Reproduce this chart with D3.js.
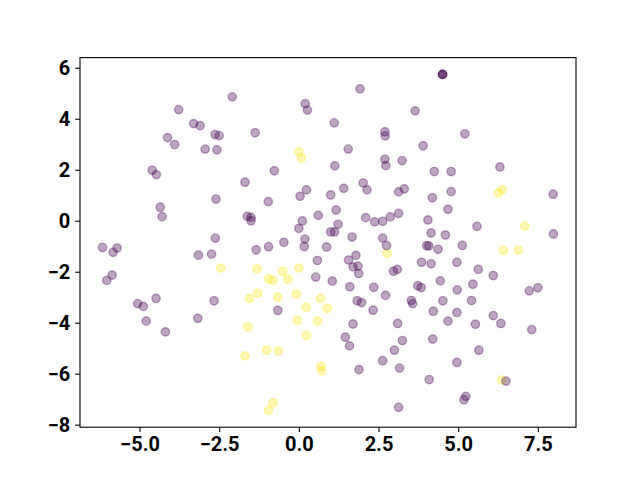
<!DOCTYPE html>
<html>
<head>
<meta charset="utf-8">
<script src="https://cdn.jsdelivr.net/npm/d3@7"></script>
<style>
  body { margin: 0; background: #fff; }
  .tick text { font-family: Roboto, "Liberation Sans", sans-serif; font-weight: bold; font-size: 20px; fill: #000; }
</style>
</head>
<body>
<svg width="640" height="480"></svg>
<script>
// class 0 points (purple)
const purpleX = [-2.09, -3.77, -3.30, -3.10, -2.63, -2.50, -4.12, -3.90, -2.94, -2.57, -4.60, -4.47, -1.69,
  1.92, 0.20, 0.27, 3.65, 1.11, -1.37, 2.70, 2.71, 1.55, 2.70, 2.73, 3.24, 1.13, -0.77,
  4.51, 4.51, 4.51, 5.21, 3.90, 4.25, 4.78, 6.31,
  -2.60, -4.35, -4.29, -1.62, -6.16, -5.70, -5.83, -2.62, -2.74, -3.15, -5.86, -6.03,
  -4.48, -5.06, -4.88, -2.66, -4.79, -4.19, -3.17,
  0.04, 0.24, 1.00, 1.41, 2.02, 2.14, 3.13, 3.31, -0.96, -1.50, -1.50, 0.61, 1.17, 0.11, 0.00,
  1.23, 1.00, 1.12, 2.10, 2.38, 2.63, 2.87, 3.13, 1.67, 0.19, 0.17, -0.47, 0.87, -0.95, -1.34,
  2.63, 2.75, 0.58, 1.56, 1.79, 1.70, 1.86, 1.88, 2.97, 3.09, 0.53, 1.05, 1.60, 2.35, 2.72,
  1.83, 1.97, 3.53, 3.57, -0.66, 2.33, 1.70, 3.10, 1.46, 1.59, 3.25, 3.00, 2.63, 3.16, 1.89, 3.13,
  4.19, 4.78, 4.68, 7.98, 4.05, 4.15, 4.60, 5.59, 7.99, 4.01, 4.08, 4.37, 5.13, 3.85, 4.15, 4.96,
  5.63, 6.10, 4.44, 3.73, 3.84, 4.97, 5.46, 7.23, 7.50, 4.52, 5.42, 4.22, 4.96, 4.68, 5.54, 6.10,
  6.34, 7.31, 4.20, 5.65, 4.96, 4.09, 6.50, 5.24, 5.18];
const purpleY = [4.86, 4.36, 3.81, 3.73, 3.38, 3.34, 3.26, 2.99, 2.81, 2.78, 1.98, 1.81, 1.51,
  5.17, 4.59, 4.34, 4.31, 3.84, 3.45, 3.49, 3.33, 2.81, 2.41, 2.16, 2.36, 2.15, 1.96,
  5.74, 5.74, 5.74, 3.41, 2.94, 1.93, 1.93, 2.11,
  0.85, 0.53, 0.16, 0.17, -1.05, -1.07, -1.24, -0.68, -1.31, -1.35, -2.13, -2.34,
  -3.05, -3.25, -3.36, -3.14, -3.94, -4.36, -3.83,
  0.96, 1.21, 1.01, 1.27, 1.48, 1.21, 1.13, 1.25, 0.75, 0.13, 0.00, 0.21, 0.42, -0.01, -0.30,
  -0.14, -0.44, -0.44, 0.12, -0.04, -0.02, 0.15, 0.29, -0.64, -0.72, -1.01, -0.85, -1.03, -1.02, -1.14,
  -0.68, -0.97, -1.56, -1.54, -1.36, -1.81, -1.78, -2.07, -1.98, -1.91, -2.21, -2.37, -2.59, -2.61, -2.93,
  -3.14, -3.21, -3.13, -3.25, -3.52, -3.51, -4.05, -4.03, -4.57, -4.91, -4.70, -5.08, -5.49, -5.78, -5.84, -7.32,
  0.90, 1.14, 0.45, 1.04, 0.03, -0.48, -0.56, -0.22, -0.52, -0.98, -0.99, -1.12, -0.97, -1.63, -1.69, -1.63,
  -1.91, -2.15, -2.36, -2.55, -2.62, -2.71, -2.49, -2.75, -2.63, -3.14, -3.13, -3.55, -3.60, -3.94, -4.06, -3.72,
  -4.03, -4.27, -4.64, -5.08, -5.56, -6.23, -6.29, -6.89, -7.02];

// class 1 points (yellow)
const yellowX = [0.00, 0.08, -2.45, -1.55, 2.77, -1.31, -0.51, 0.00, -0.95, -0.82, -0.35, -1.29, -0.66,
  -0.08, 0.68, 0.23, 0.89, -1.60, -1.69, -0.05, 0.59, 0.24, -1.01, -0.64, 0.69, 0.72, -0.81, -0.95,
  6.26, 6.39, 7.09, 6.42, 6.89, 6.37];
const yellowY = [2.70, 2.46, -1.86, -3.05, -1.28, -1.89, -1.99, -1.86, -2.28, -2.34, -2.30, -2.85, -3.00,
  -2.88, -3.05, -3.40, -3.44, -4.17, -5.30, -3.91, -3.94, -4.50, -5.08, -5.11, -5.71, -5.89, -7.14, -7.44,
  1.09, 1.22, -0.20, -1.16, -1.15, -6.25];

const xTicks = [-5, -2.5, 0, 2.5, 5, 7.5];
const yTicks = [-8, -6, -4, -2, 0, 2, 4, 6];

const width = 640;
const height = 480;
const margin = { left: 80, right: 64, top: 57.6, bottom: 52.8 };
const svg = d3.select('svg');

const points = [];
yellowX.forEach((x, i) => points.push({ x: x, y: yellowY[i], c: '#fde725' }));
purpleX.forEach((x, i) => points.push({ x: x, y: purpleY[i], c: '#440154' }));

// matplotlib style 5% margins
function padded(vals) {
  const e = d3.extent(vals);
  const p = (e[1] - e[0]) * 0.05;
  return [e[0] - p, e[1] + p];
}

const x = d3.scaleLinear()
  .domain(padded(points.map(d => d.x)))
  .range([margin.left, width - margin.right]);
const y = d3.scaleLinear()
  .domain(padded(points.map(d => d.y)))
  .range([height - margin.bottom, margin.top]);

const fmtX = v => d3.format('.1f')(v).replace('-', '\u2212');
const fmtY = v => d3.format('d')(v).replace('-', '\u2212');

// points
svg.append('g')
  .selectAll('circle')
  .data(points)
  .enter()
  .append('circle')
  .attr('cx', d => x(d.x))
  .attr('cy', d => y(d.y))
  .attr('r', 4.17)
  .attr('fill', d => d.c)
  .attr('stroke', d => d.c)
  .attr('stroke-width', 1.39)
  .attr('fill-opacity', 0.35)
  .attr('stroke-opacity', 0.35);

// axes
const xAxis = svg.append('g')
  .attr('transform', `translate(0,${height - margin.bottom})`)
  .call(d3.axisBottom(x).tickValues(xTicks).tickFormat(fmtX).tickSizeInner(4.86).tickSizeOuter(0).tickPadding(4.86));
const yAxis = svg.append('g')
  .attr('transform', `translate(${margin.left},0)`)
  .call(d3.axisLeft(y).tickValues(yTicks).tickFormat(fmtY).tickSizeInner(4.86).tickSizeOuter(0).tickPadding(4.86));

[xAxis, yAxis].forEach(a => {
  a.select('.domain').remove();
  a.selectAll('.tick line').attr('stroke', '#000').attr('stroke-width', 1.1);
  a.attr('font-size', null).attr('font-family', null);
});

// frame
svg.append('rect')
  .attr('x', margin.left)
  .attr('y', margin.top)
  .attr('width', width - margin.left - margin.right)
  .attr('height', height - margin.top - margin.bottom)
  .attr('fill', 'none')
  .attr('stroke', '#000')
  .attr('stroke-width', 1.1);
</script>
</body>
</html>
